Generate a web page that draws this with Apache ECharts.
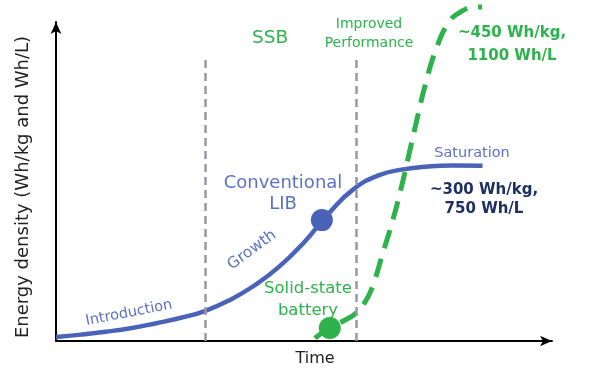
<!DOCTYPE html>
<html><head><meta charset="utf-8">
<script src="https://cdn.jsdelivr.net/npm/echarts@6/dist/echarts.min.js"></script>
<style>html,body{margin:0;padding:0;background:#fff}#c{width:589px;height:373px}</style>
</head><body><div id="c"></div>
<script>
// Conventional LIB S-curve (time in %, energy density in relative units)
const libX = [0, 5, 10, 15, 20, 25, 30, 35, 40, 45, 50, 55, 60, 65, 70, 75, 80, 86];
const libY = [1.25, 2.0, 2.9, 4.0, 5.5, 7.2, 9.4, 12.8, 17.4, 23.3, 30.9, 40.0, 47.6, 51.9, 53.8, 54.7, 55.0, 54.9];
// Solid-state battery curve
const ssbX = [52.2, 55.2, 58.3, 60.3, 62.3, 63.7, 65.9, 67.9, 69.6, 71.0, 72.6, 74.6, 76.8, 79.0, 81.5, 84.7, 85.9];
const ssbY = [0.9, 4.1, 6.6, 8.5, 12.2, 16.6, 27.6, 37.9, 48.0, 57.4, 68.3, 81.2, 92.2, 99.4, 103.1, 104.7, 104.7];
// Highlighted points
const libMarker = [53.6, 37.9];
const ssbMarker = [55.2, 4.1];
// Phase boundaries (time) and their top
const phaseX = [30, 60.5];
const phaseTop = [88.7, 88.1];

const blue = '#4a63b9', blueText = '#5b72c4', green = '#2db24c', navy = '#1e2f62';
const font = '"DejaVu Sans", sans-serif';
const zip = (a, b) => a.map((v, i) => [v, b[i]]);

const chart = echarts.init(document.getElementById('c'));
function txt(x, y, text, color, size, opts) {
  return Object.assign({
    type: 'text', x: x, y: y,
    style: Object.assign({ text: text, fill: color, font: (opts && opts.weight || 'normal') + ' ' + size + 'px ' + font,
      textAlign: 'center', textVerticalAlign: 'middle', lineHeight: opts && opts.lh || size * 1.3 })
  }, opts && opts.rot ? { rotation: opts.rot, originX: 0, originY: 0 } : {});
}
chart.setOption({
  animation: false,
  grid: { left: 56, right: 37, top: 22, bottom: 32 },
  xAxis: { type: 'value', min: 0, max: 100, axisLine: { symbol: ['none', 'arrow'], symbolSize: [8, 12], lineStyle: { color: '#000', width: 2 } },
    axisTick: { show: false }, axisLabel: { show: false }, splitLine: { show: false } },
  yAxis: { type: 'value', min: 0, max: 100, axisLine: { show: true, symbol: ['none', 'arrow'], symbolSize: [8, 12], lineStyle: { color: '#000', width: 2 } },
    axisTick: { show: false }, axisLabel: { show: false }, splitLine: { show: false } },
  series: [
    { type: 'line', data: zip(libX, libY), smooth: true, symbol: 'none', lineStyle: { color: blue, width: 4.5 },
      markLine: { silent: true, symbol: 'none', label: { show: false }, lineStyle: { color: '#9a97a2', type: [8, 5], width: 2.5 },
        data: phaseX.map((x, i) => [{ coord: [x, 0] }, { coord: [x, phaseTop[i]] }]) } },
    { type: 'line', data: zip(ssbX, ssbY), smooth: true, symbol: 'none', clip: false, lineStyle: { color: green, width: 5, type: [19, 11] } },
    { type: 'scatter', data: [libMarker], symbolSize: 22, itemStyle: { color: blue, opacity: 1 }, z: 5 },
    { type: 'scatter', data: [ssbMarker], symbolSize: 22, itemStyle: { color: green, opacity: 1 }, z: 5 }
  ],
  graphic: [
    txt(23, 187, 'Energy density (Wh/kg and Wh/L)', '#222', 18, { rot: Math.PI / 2 }),
    txt(315, 359, 'Time', '#222', 16),
    txt(270, 38, 'SSB', green, 18.5),
    txt(369, 34, 'Improved\nPerformance', green, 14, { lh: 19 }),
    txt(512, 45, '~450 Wh/kg,\n1100 Wh/L', green, 15, { weight: 'bold', lh: 23 }),
    txt(472, 153, 'Saturation', blueText, 14.5),
    txt(484, 200, '~300 Wh/kg,\n750 Wh/L', navy, 15, { weight: 'bold', lh: 19 }),
    txt(283, 194, 'Conventional\nLIB', blueText, 18, { lh: 21 }),
    txt(252, 250, 'Growth', blueText, 15.5, { rot: 36.5 * Math.PI / 180 }),
    txt(129, 313, 'Introduction', blueText, 14.5, { rot: 11 * Math.PI / 180 }),
    txt(308, 300, 'Solid-state\nbattery', green, 16.5, { lh: 22 })
  ]
});
</script></body></html>
